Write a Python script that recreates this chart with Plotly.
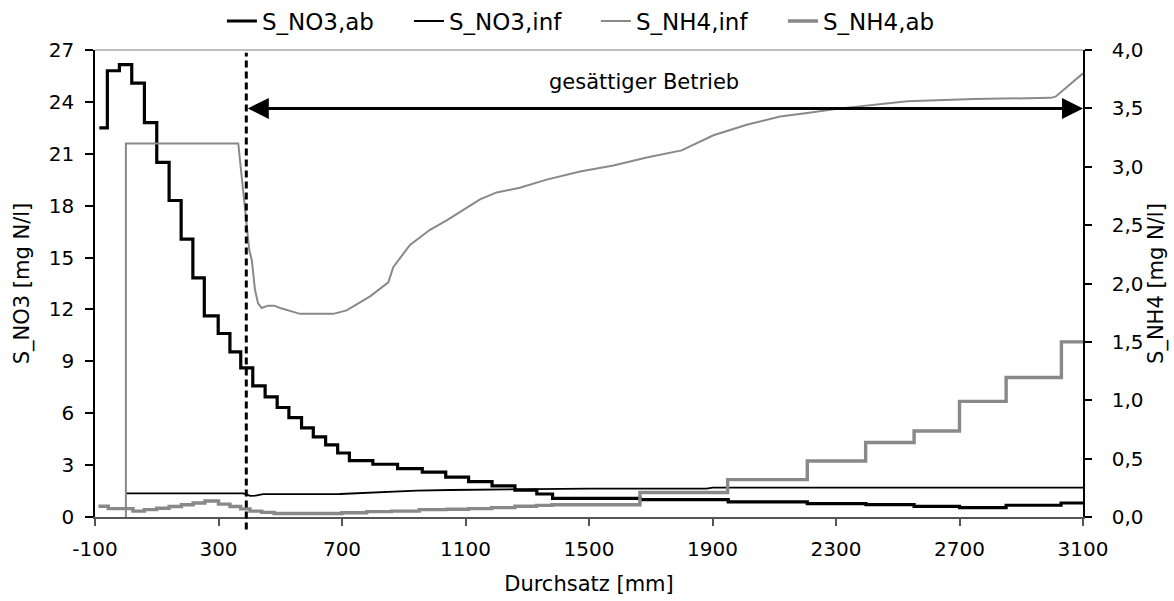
import plotly.graph_objects as go

# ---------------- data ----------------
# S_NO3,ab  (left axis, step series: x = start of each step)
no3_ab_x = [-86, -60, -21, 19, 60, 100, 140, 179, 217, 254, 299, 337, 372, 411, 451,
            490, 528, 569, 607, 647, 686, 724, 800, 880, 960, 1036, 1110, 1186, 1260,
            1331, 1382, 1666, 1951, 2207, 2397, 2553, 2700, 2851, 3029, 3100]
no3_ab_y = [22.5, 25.8, 26.15, 25.08, 22.8, 20.5, 18.3, 16.07, 13.83, 11.63, 10.61, 9.55,
            8.62, 7.58, 6.94, 6.33, 5.75, 5.15, 4.63, 4.17, 3.70, 3.26, 3.05, 2.80, 2.60,
            2.31, 2.04, 1.80, 1.55, 1.33, 1.08, 1.01, 0.87, 0.77, 0.72, 0.62, 0.54, 0.68,
            0.81, 0.81]

# S_NO3,inf (left axis)
no3_inf_x = [0, 380, 392, 402, 420, 445, 693, 834, 942, 1050, 1320, 1500, 1881, 1900, 3100]
no3_inf_y = [1.37, 1.37, 1.30, 1.22, 1.24, 1.32, 1.33, 1.44, 1.52, 1.56, 1.61, 1.64, 1.64,
             1.70, 1.70]

# S_NH4,inf (right axis)
nh4_inf_x = [0, 0, 364, 372, 380, 390, 400, 408, 418, 428, 440, 460, 480, 500, 564, 672,
             715, 791, 850, 866, 920, 985, 1039, 1093, 1147, 1201, 1276, 1363, 1471, 1579,
             1687, 1800, 1903, 2011, 2119, 2207, 2315, 2531, 2747, 2995, 3011, 3100]
nh4_inf_y = [0.0, 3.2, 3.2, 3.0, 2.75, 2.5, 2.28, 2.2, 1.95, 1.83, 1.79, 1.81, 1.81, 1.79,
             1.74, 1.74, 1.77, 1.89, 2.01, 2.14, 2.33, 2.46, 2.54, 2.63, 2.72, 2.78, 2.82,
             2.89, 2.96, 3.01, 3.08, 3.14, 3.27, 3.36, 3.43, 3.46, 3.50, 3.56, 3.58, 3.59,
             3.60, 3.80]

# S_NH4,ab (right axis, step series)
nh4_ab_x = [-89, -57, 23, 60, 100, 140, 180, 218, 256, 300, 337, 372, 402, 440, 480, 700,
            780, 860, 950, 1040, 1110, 1185, 1260, 1330, 1380, 1665, 1949, 2207, 2396,
            2553, 2700, 2851, 3030, 3100]
nh4_ab_y = [0.092, 0.072, 0.05, 0.063, 0.075, 0.09, 0.105, 0.12, 0.137, 0.11, 0.09, 0.07,
            0.05, 0.04, 0.03, 0.037, 0.046, 0.05, 0.063, 0.066, 0.072, 0.08, 0.092, 0.1,
            0.105, 0.21, 0.32, 0.48, 0.638, 0.737, 0.99, 1.195, 1.50, 1.50]

# axis ticks
x_ticks = [-100, 300, 700, 1100, 1500, 1900, 2300, 2700, 3100]
x_ticklabels = ["-100", "300", "700", "1100", "1500", "1900", "2300", "2700", "3100"]
y_ticks = [0, 3, 6, 9, 12, 15, 18, 21, 24, 27]
y2_ticks = [0, 0.5, 1.0, 1.5, 2.0, 2.5, 3.0, 3.5, 4.0]
y2_ticklabels = ["0,0", "0,5", "1,0", "1,5", "2,0", "2,5", "3,0", "3,5", "4,0"]

# annotation positions
saturation_start = 390
arrow_level = 3.5
label_x, label_y = 1678, 3.73

GRAY = "#898989"
FONT = "DejaVu Sans"

fig = go.Figure()
fig.add_trace(go.Scatter(x=no3_ab_x, y=no3_ab_y, name="S_NO3,ab", mode="lines",
                         line=dict(color="black", width=3.2, shape="hv"), yaxis="y"))
fig.add_trace(go.Scatter(x=no3_inf_x, y=no3_inf_y, name="S_NO3,inf", mode="lines",
                         line=dict(color="black", width=1.8), yaxis="y"))
fig.add_trace(go.Scatter(x=nh4_inf_x, y=nh4_inf_y, name="S_NH4,inf", mode="lines",
                         line=dict(color=GRAY, width=2), yaxis="y2"))
fig.add_trace(go.Scatter(x=nh4_ab_x, y=nh4_ab_y, name="S_NH4,ab", mode="lines",
                         line=dict(color=GRAY, width=3.4, shape="hv"), yaxis="y2"))

fig.update_layout(
    width=1174, height=601,
    margin=dict(l=95, r=91, t=50, b=84, autoexpand=False),
    paper_bgcolor="white", plot_bgcolor="white",
    font=dict(family=FONT, size=20, color="black"),
    showlegend=True,
    legend=dict(orientation="h", x=0.507, xanchor="center", y=1.108, yanchor="top",
                font=dict(size=23), entrywidth=142, entrywidthmode="pixels",
                bgcolor="rgba(0,0,0,0)", borderwidth=0),
    xaxis=dict(range=[-100, 3100], tickvals=x_ticks, ticktext=x_ticklabels, automargin=False,
               ticks="outside", ticklen=7, tickwidth=1.5, tickcolor="#555",
               showline=True, linecolor="#555", linewidth=1.5,
               showgrid=False, zeroline=False, ticklabelstandoff=6,
               title=dict(text="Durchsatz [mm]", font=dict(size=21), standoff=17)),
    yaxis=dict(range=[0, 27], tickvals=y_ticks, ticks="outside", ticklen=8, tickwidth=1.5,
               tickcolor="black", showline=True, linecolor="black", linewidth=1.5,
               automargin=False,
               showgrid=False, zeroline=False, ticklabelstandoff=7,
               title=dict(text="S_NO3 [mg N/l]", font=dict(size=21), standoff=13)),
    yaxis2=dict(range=[0, 4], overlaying="y", side="right", tickvals=y2_ticks,
                ticktext=y2_ticklabels, ticks="outside", ticklen=7, tickwidth=1.5,
                tickcolor="black", showline=True, linecolor="black", linewidth=1.5,
                automargin=False,
                showgrid=False, zeroline=False, ticklabelstandoff=16,
                title=dict(text="S_NH4 [mg N/l]", font=dict(size=21), standoff=0)),
    yaxis3=dict(range=[0, 4], overlaying="y", side="right", anchor="x", tickvals=y2_ticks,
                ticks="inside", ticklen=7, tickwidth=1.5, tickcolor="black", automargin=False,
                showticklabels=False, showline=False, showgrid=False, zeroline=False),
)

# light gray top border of the plot area
fig.add_shape(type="line", xref="paper", yref="paper", x0=0, x1=1, y0=1, y1=1,
              line=dict(color="#a8a8a8", width=1.5))
# dashed vertical marker (start of saturated operation)
fig.add_shape(type="line", xref="x", yref="paper", x0=saturation_start, x1=saturation_start,
              y0=-0.027, y1=0.994, line=dict(color="black", width=3, dash="7px,4px"))
# double-headed arrow
fig.add_annotation(x=3100, y=arrow_level, xref="x", yref="y2",
                   ax=saturation_start, ay=arrow_level, axref="x", ayref="y2",
                   showarrow=True, text="", arrowhead=2, startarrowhead=2,
                   arrowside="end+start", arrowwidth=3, arrowsize=1.4, startarrowsize=1.4,
                   arrowcolor="black")
fig.add_annotation(x=label_x, y=label_y, xref="x", yref="y2", text="gesättiger Betrieb",
                   showarrow=False, font=dict(size=21, family=FONT, color="black"))

fig.write_html("out.html")
